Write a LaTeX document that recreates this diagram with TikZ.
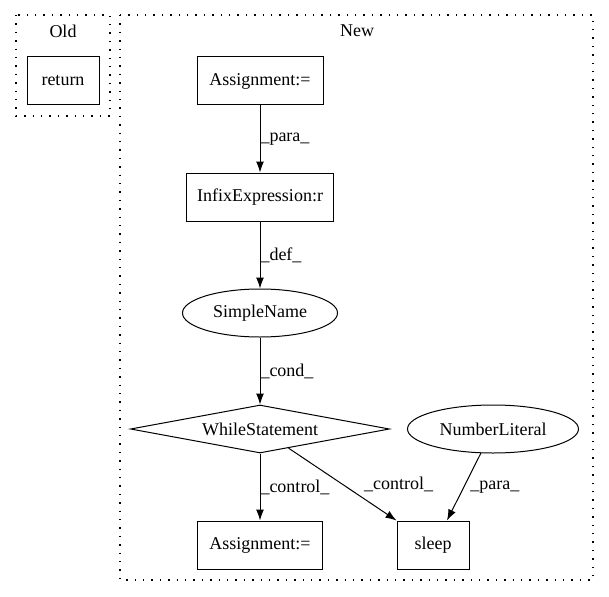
\documentclass[tikz,border=0pt]{standalone}
\usepackage{fontspec}
\setmainfont{Liberation Serif}
\usetikzlibrary{shapes.geometric,arrows.meta}

\begin{document}
\begin{tikzpicture}[x=1pt, y=-1pt, font=\fontsize{18}{20}\selectfont,
    every node/.style={inner sep=0pt},
    box/.style={draw, rectangle, minimum height=48pt, line width=1pt},
    oval/.style={draw, ellipse, minimum height=48pt, line width=1pt},
    cluster/.style={dash pattern=on 1.4pt off 7pt, line width=1.3pt},
    edge/.style={-{Latex[length=11pt,width=8pt]}, line width=1pt},
    lbl/.style={anchor=west, fill=none}]
    \useasboundingbox (0,0) rectangle (609,596);

    % clusters
    \draw[cluster] (16,15) rectangle (110,116);
    \draw[cluster] (120,15) rectangle (593,580);
    \node (old) at (63,31) {Old};
    \node (new) at (357,31) {New};

    % nodes
    \node[box, minimum width=72pt] (ret) at (63,81) {return};
    \node[box, minimum width=126pt] (asg1) at (260,81) {Assignment:=};
    \node[box, minimum width=147pt] (infix) at (260,197) {InfixExpression:r};
    \node[oval, minimum width=155pt] (simple) at (260,313) {SimpleName};
    \node[draw, diamond, aspect=5.4, minimum width=259pt, minimum height=48pt, line width=1pt] (while) at (260,429) {WhileStatement};
    \node[oval, minimum width=171pt] (num) at (493,429) {NumberLiteral};
    \node[box, minimum width=125pt] (asg2) at (260,545) {Assignment:=};
    \node[box, minimum width=72pt] (sleep) at (433,545) {sleep};

    % edges
    \draw[edge] (asg1) -- node[lbl] {\_para\_} (infix);
    \draw[edge] (infix) -- node[lbl] {\_def\_} (simple);
    \draw[edge] (simple) -- node[lbl] {\_cond\_} (while);
    \draw[edge] (while) -- node[lbl] {\_control\_} (asg2);
    \draw[edge] (while) -- node[lbl, xshift=21pt] {\_control\_} (sleep.north west);
    \draw[edge] (num) -- node[lbl, xshift=6pt] {\_para\_} ([xshift=14pt]sleep.north);
\end{tikzpicture}
\end{document}
